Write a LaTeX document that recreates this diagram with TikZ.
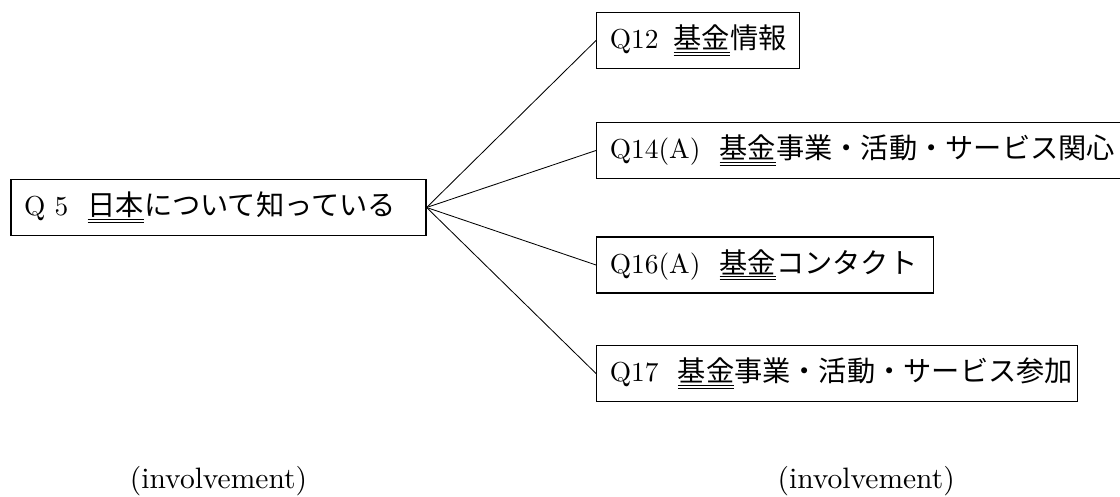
\documentclass[tikz,border=0pt]{standalone}
\usepackage{fontspec}
\setmainfont{lmroman10-regular.otf}
\newfontfamily\jp[Scale=1.03]{Noto Sans CJK JP}
\usepackage{tikz}
\usetikzlibrary{positioning}
\newcommand{\dul}[1]{\underline{\underline{#1}}}
\newcommand{\qgap}{\nobreak\hspace{0.7em}}

\begin{document}
\begin{tikzpicture}[
  node distance=1cm and 1cm,
  font=\fontsize{19.5}{23}\selectfont,
  mynode/.style={draw,line width=0.9pt,rectangle,minimum height=1.4cm,inner xsep=0.33cm,align=left},
  mylabel/.style={font=\fontsize{21}{25}\selectfont,inner sep=0pt}
]
\useasboundingbox (0,0) rectangle (28,12.425);

\node[mynode, text width=9.715cm] (q5) at (5.4625,7.2375) {Q 5\qgap{\jp\dul{日本}について知っている}};
\node[mynode, text width=4.415cm, anchor=west] (q12) at (14.9,11.4125) {Q12\nobreak\hspace{0.55em}{\jp\dul{基金}情報}};
\node[mynode, text width=12.7cm, anchor=west] (q14) at (14.9,8.6625) {Q14(A)\qgap{\jp\dul{基金}事業・活動・サービス関心}};
\node[mynode, text width=7.765cm, anchor=west] (q16) at (14.9,5.8) {Q16(A)\qgap{\jp\dul{基金}コンタクト}};
\node[mynode, text width=11.365cm, anchor=west] (q17) at (14.9,3.0875) {Q17\qgap{\jp\dul{基金}事業・活動・サービス参加}};
\node[mylabel, below=5.75cm of q5] (inv1) {(involvement)};
\node[mylabel, right=11.75cm of inv1] (inv2) {(involvement)};
\path[line width=0.6pt] (q5.east) edge (q12.west)
(q5.east) edge (q14.west)
(q5.east) edge (q16.west)
(q5.east) edge (q17.west);
\end{tikzpicture}
\end{document}
